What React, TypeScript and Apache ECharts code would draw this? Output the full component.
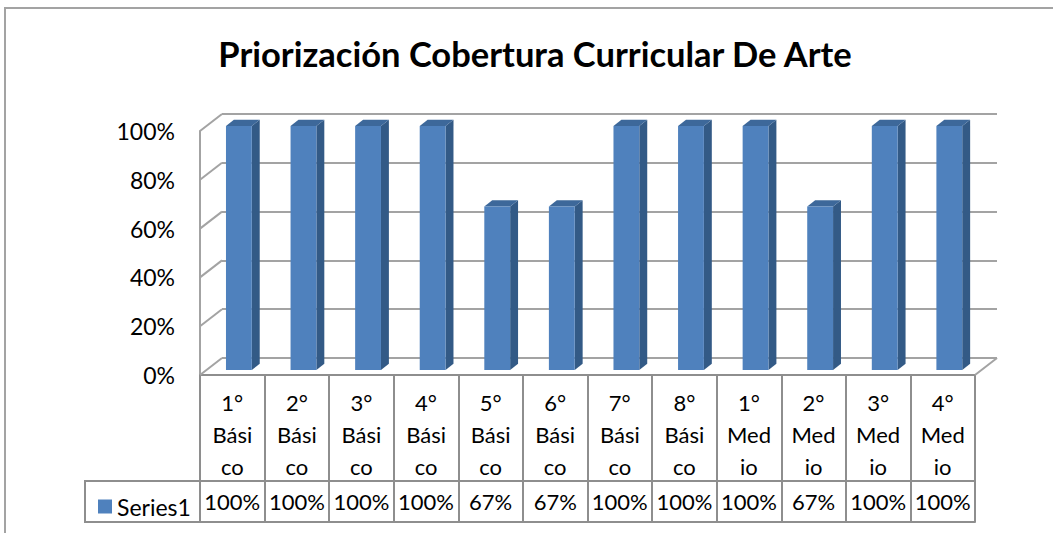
import React, { useEffect, useRef } from "react";
import * as echarts from "echarts";

const TITLE = "Priorización Cobertura Curricular De Arte";
const SERIES_NAME = "Series1";
const categories = [
  "1°\nBási\nco", "2°\nBási\nco", "3°\nBási\nco", "4°\nBási\nco",
  "5°\nBási\nco", "6°\nBási\nco", "7°\nBási\nco", "8°\nBási\nco",
  "1°\nMed\nio", "2°\nMed\nio", "3°\nMed\nio", "4°\nMed\nio",
];
const values = [100, 100, 100, 100, 67, 67, 100, 100, 100, 67, 100, 100];
const yTicks = [0, 20, 40, 60, 80, 100];

const FONT = "Lato";
const GRID_LINE = "#a3a3a3";
const TABLE_LINE = "#8e8e8e";
const FRONT = "#4F81BD";
const SIDE = "#335A86";
const TOP = "#3D689A";
const DX = 22;
const DY = 17;
const G_LEFT = 200;
const G_TOP = 131;
const G_W = 775;
const G_H = 244;

export default function App() {
  const ref = useRef<HTMLDivElement>(null);
  useEffect(() => {
    if (!ref.current) return;
    const chart = echarts.init(ref.current, null, { renderer: "svg" });
    const F0 = 0.3;
    const F1 = 0.66;
    const option: any = {
      animation: false,
      backgroundColor: "#ffffff",
      title: {
        text: TITLE,
        left: 530,
        textAlign: "center",
        top: 31,
        textStyle: { fontFamily: FONT, fontSize: 34.5, fontWeight: "bold", color: "#000" },
      },
      legend: {
        data: [SERIES_NAME],
        left: 93,
        top: 490,
        icon: "rect",
        itemWidth: 14,
        itemHeight: 14,
        itemGap: 5,
        textStyle: { fontFamily: FONT, fontSize: 23, color: "#000" },
      },
      grid: [
        { left: G_LEFT, top: G_TOP, width: G_W, height: G_H },
        { left: G_LEFT + DX, top: G_TOP - DY, width: G_W, height: G_H },
      ],
      xAxis: [
        {
          gridIndex: 0,
          type: "category",
          data: categories,
          position: "bottom",
          axisLine: { show: true, lineStyle: { color: TABLE_LINE, width: 2 } },
          axisTick: { show: true, interval: 0, length: 147, lineStyle: { color: TABLE_LINE, width: 2 } },
          axisLabel: { interval: 0, fontFamily: FONT, fontSize: 22, lineHeight: 32, margin: 11, color: "#000" },
          splitLine: { show: false },
        },
        {
          gridIndex: 0,
          type: "category",
          data: categories,
          position: "bottom",
          offset: 106,
          axisLine: { show: true, lineStyle: { color: TABLE_LINE, width: 2 } },
          axisTick: { show: false },
          axisLabel: {
            interval: 0,
            fontFamily: FONT,
            fontSize: 22,
            lineHeight: 22,
            margin: 9,
            color: "#000",
            formatter: (_v: string, i: number) => values[i] + "%",
          },
        },
        {
          gridIndex: 0,
          type: "category",
          data: categories,
          position: "bottom",
          offset: 147,
          axisLine: { show: true, lineStyle: { color: TABLE_LINE, width: 2 } },
          axisTick: { show: false },
          axisLabel: { show: false },
        },
        {
          gridIndex: 1,
          type: "category",
          data: categories,
          show: false,
        },
      ],
      yAxis: [
        {
          gridIndex: 0,
          type: "value",
          min: 0,
          max: 100,
          interval: 20,
          axisLine: { show: true, lineStyle: { color: GRID_LINE, width: 2 } },
          axisTick: { show: false },
          splitLine: { show: false },
          axisLabel: { formatter: "{value}%", margin: 25, fontFamily: FONT, fontSize: 23, color: "#000" },
        },
        {
          gridIndex: 1,
          type: "value",
          min: 0,
          max: 100,
          interval: 20,
          axisLine: { show: false },
          axisTick: { show: false },
          axisLabel: { show: false },
          splitLine: { show: true, lineStyle: { color: GRID_LINE, width: 2 } },
        },
      ],
      graphic: [
        {
          type: "rect",
          z: -1,
          shape: { x: 5, y: 8, width: 1200, height: 700 },
          style: { fill: "none", stroke: GRID_LINE, lineWidth: 2 },
        },
        {
          type: "rect",
          shape: { x: 85, y: 481, width: G_LEFT - 85, height: 41 },
          style: { fill: "none", stroke: TABLE_LINE, lineWidth: 2 },
        },
      ],
      series: [
        {
          type: "custom",
          name: "walls",
          xAxisIndex: 0,
          yAxisIndex: 0,
          silent: true,
          z: 1,
          data: yTicks.map((v) => [0, v]),
          renderItem: (_p: any, api: any) => {
            const band = api.size([1, 0])[0];
            const v = api.value(1);
            const p = api.coord([0, v]);
            const x0 = p[0] - band / 2;
            const children: any[] = [
              {
                type: "line",
                shape: { x1: x0, y1: p[1], x2: x0 + DX, y2: p[1] - DY },
                style: { stroke: GRID_LINE, lineWidth: 2 },
              },
            ];
            if (v === 0) {
              const r = api.coord([categories.length - 1, 0]);
              const xr = r[0] + band / 2;
              children.push({
                type: "line",
                shape: { x1: xr, y1: r[1], x2: xr + DX, y2: r[1] - DY },
                style: { stroke: GRID_LINE, lineWidth: 2 },
              });
            }
            return { type: "group", children };
          },
        },
        {
          type: "custom",
          name: SERIES_NAME,
          xAxisIndex: 0,
          yAxisIndex: 0,
          z: 3,
          itemStyle: { color: FRONT },
          data: values.map((v, i) => [i, v]),
          renderItem: (_p: any, api: any) => {
            const band = api.size([1, 0])[0];
            const i = api.value(0);
            const c = api.coord([i, api.value(1)]);
            const b = api.coord([i, 0]);
            const w = band * 0.4;
            const cx = c[0] + F0 * DX;
            const top = c[1] - F0 * DY;
            const bot = b[1] - F0 * DY;
            const ddx = (F1 - F0) * DX;
            const ddy = (F1 - F0) * DY;
            const xl = cx - w / 2;
            const xr = cx + w / 2;
            return {
              type: "group",
              children: [
                {
                  type: "polygon",
                  shape: { points: [[xr, top], [xr + ddx, top - ddy], [xr + ddx, bot - ddy], [xr, bot]] },
                  style: { fill: SIDE },
                },
                {
                  type: "polygon",
                  shape: { points: [[xl, top], [xr, top], [xr + ddx, top - ddy], [xl + ddx, top - ddy]] },
                  style: { fill: TOP },
                },
                {
                  type: "rect",
                  shape: { x: xl, y: top, width: w, height: bot - top },
                  style: { fill: FRONT },
                },
              ],
            };
          },
        },
      ],
    };
    chart.setOption(option);
    return () => chart.dispose();
  }, []);
  return (
    <div
      ref={ref}
      style={{ position: "fixed", left: 0, top: 0, width: 1053, height: 533, background: "#fff" }}
    />
  );
}
